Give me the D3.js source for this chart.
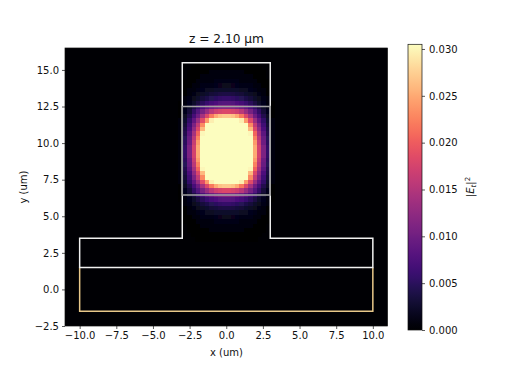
<!DOCTYPE html>
<html>
<head>
<meta charset="utf-8">
<script src="https://cdn.jsdelivr.net/npm/d3@7"></script>
<style>
  html, body { margin: 0; padding: 0; background: #fff; }
  svg { display: block; }
  text { font-family: "DejaVu Sans", sans-serif; fill: #111; }
</style>
</head>
<body>
<svg id="chart" width="520" height="371"></svg>
<script>
"use strict";

// tick labels
const xTicks = [ -10, -7.5, -5, -2.5, 0, 2.5, 5, 7.5, 10 ];
const yTicks = [ -2.5, 0, 2.5, 5, 7.5, 10, 12.5, 15 ];
const cTicks = [ 0, 0.005, 0.01, 0.015, 0.02, 0.025, 0.03 ];

// field: |x| of the columns (mirrored), y of the rows
const fieldStep = 0.3;
const fieldX = [ 0.15, 0.45, 0.75, 1.05, 1.35, 1.65, 1.95, 2.25, 2.55, 2.85, 3.15 ];
const fieldY = [ 15.45, 15.15, 14.85, 14.55, 14.25, 13.95, 13.65, 13.35, 13.05, 12.75, 12.45,
                 12.15, 11.85, 11.55, 11.25, 10.95, 10.65, 10.35, 10.05, 9.75, 9.45,
                 9.15, 8.85, 8.55, 8.25, 7.95, 7.65, 7.35, 7.05, 6.75, 6.45,
                 6.15, 5.85, 5.55, 5.25, 4.95, 4.65, 4.35, 4.05, 3.75, 3.45 ];
// |E|^2 in units of 1e-3, one row per fieldY; short rows are zero further out
const fieldRows = [
  [ .2, .2, .2, .2, .15, .15, .1 ],
  [ .35, .3, .3, .3, .25, .2, .15, .1 ],
  [ .5, .5, .45, .4, .35, .3, .25, .15, .1 ],
  [ .75, .7, .7, .6, .55, .45, .35, .25, .15 ],
  [ 1.1, 1.1, 1, .9, .8, .65, .5, .35, .2, .1 ],
  [ 1.7, 1.6, 1.5, 1.4, 1.2, 1, .75, .5, .3, .15 ],
  [ 2.5, 2.4, 2.3, 2.1, 1.8, 1.5, 1.1, .75, .45, .2 ],
  [ 3.7, 3.6, 3.4, 3.1, 2.7, 2.2, 1.7, 1.1, .65, .3 ],
  [ 5.6, 5.4, 5.1, 4.6, 4, 3.3, 2.5, 1.7, 1, .45 ],
  [ 8, 7.8, 7.4, 6.8, 6, 4.8, 3.6, 2.5, 1.5, .7, .1 ],
  [ 11.5, 11.2, 10.8, 10, 8.8, 7.2, 5.5, 3.8, 2.3, 1.1, .2 ],
  [ 18, 17.6, 17, 15.5, 13, 10.5, 7.8, 5.4, 3.2, 1.5, .2 ],
  [ 27, 26.5, 25, 22, 18, 14, 10, 7, 4.2, 2, .3 ],
  [ 37, 36, 33, 29.5, 24, 18.5, 13, 9, 5.5, 2.6, .4 ],
  [ 42, 41, 38, 35, 31, 23, 16, 11, 6.5, 3.1, .5 ],
  [ 46, 44, 42, 38, 33, 26, 18, 12.5, 7.5, 3.7, .5 ],
  [ 50, 48, 46, 42, 37, 30, 20.5, 14, 8.5, 4.2, .6 ],
  [ 55, 53, 50, 46, 40, 32.5, 22.5, 15.5, 9.5, 4.7, .7 ],
  [ 58, 56, 53, 48, 42, 34, 24, 16.5, 10, 5, .7 ],
  [ 60, 58, 55, 50, 43, 35, 25, 17.5, 11, 5.4, .8 ],
  [ 60, 58, 55, 50, 43, 35, 25, 17.5, 11, 5.5, .8 ],
  [ 60, 58, 55, 50, 43, 35, 25, 17.5, 11, 5.4, .8 ],
  [ 58, 56, 53, 48, 42, 34, 24, 16.5, 10, 5, .7 ],
  [ 55, 53, 50, 46, 40, 32.5, 22.5, 15.5, 9.5, 4.7, .7 ],
  [ 50, 48, 46, 42, 37, 30, 20.5, 14, 8.5, 4.2, .6 ],
  [ 46, 44, 42, 38, 33, 26, 18, 12.5, 7.5, 3.7, .5 ],
  [ 42, 41, 38, 35, 31, 23, 16, 11, 6.5, 3.1, .5 ],
  [ 37, 36, 33, 29.5, 24, 18.5, 13, 9, 5.5, 2.6, .4 ],
  [ 27, 26.5, 25, 22, 18, 14, 10, 7, 4.2, 2, .3 ],
  [ 18, 17.6, 17, 15.5, 13, 10.5, 7.8, 5.4, 3.2, 1.5, .2 ],
  [ 11.5, 11.2, 10.8, 10, 8.8, 7.2, 5.5, 3.8, 2.3, 1.1, .2 ],
  [ 8, 7.8, 7.4, 6.8, 6, 4.8, 3.6, 2.5, 1.5, .7, .1 ],
  [ 5.6, 5.4, 5.1, 4.6, 4, 3.3, 2.5, 1.7, 1, .45 ],
  [ 3.7, 3.6, 3.4, 3.1, 2.7, 2.2, 1.7, 1.1, .65, .3 ],
  [ 2.5, 2.4, 2.3, 2.1, 1.8, 1.5, 1.1, .75, .45, .2 ],
  [ 1.7, 1.6, 1.5, 1.4, 1.2, 1, .75, .5, .3, .15 ],
  [ 1.1, 1.1, 1, .9, .8, .65, .5, .35, .2, .1 ],
  [ .75, .7, .7, .6, .55, .45, .35, .25, .15 ],
  [ .5, .5, .45, .4, .35, .3, .25, .15, .1 ],
  [ .35, .3, .3, .3, .25, .2, .15, .1 ],
  [ .2, .2, .2, .2, .15, .15, .1 ]
];

// structure outlines in um
const ridgeOutline = [ [-10,3.5], [-3,3.5], [-3,15.5], [3,15.5], [3,3.5], [10,3.5], [10,1.5], [-10,1.5] ];
const coreOutline  = [ [-3,6.45], [-3,12.5], [3,12.5], [3,6.45] ];
const slabOutline  = [ [-10,1.5], [-10,-1.5], [10,-1.5], [10,1.5] ];

const plot = { left: 65, right: 387.5, top: 48, bottom: 326 };
const cbar = { left: 408, right: 422, top: 44.3, bottom: 330 };
const cMax = 0.0305;

const x = d3.scaleLinear().domain([ -11, 11 ]).range([ plot.left, plot.right ]);
const y = d3.scaleLinear().domain([ -2.5, 16.5 ]).range([ plot.bottom, plot.top ]);
const c = d3.scaleLinear().domain([ 0, cMax ]).range([ cbar.bottom, cbar.top ]);
const color = d3.scaleSequential( d3.interpolateMagma ).domain([ 0, cMax ]).clamp( true );

const svg = d3.select( '#chart' );
const defs = svg.append( 'defs' );

// the reference is a soft raster, so the cells get a slight blur
defs.append( 'filter' )
    .attr( 'id', 'soft' )
  .append( 'feGaussianBlur' )
    .attr( 'stdDeviation', 0.7 );

// plot background
svg.append( 'rect' )
    .attr( 'x', plot.left ).attr( 'y', plot.top )
    .attr( 'width', plot.right - plot.left ).attr( 'height', plot.bottom - plot.top )
    .attr( 'fill', color( 0 ) );

// field cells, mirrored around x = 0
const cells = [];
fieldRows.forEach( (row, j) => {
  row.forEach( (v, i) => {
    cells.push( { x: -fieldX[i], y: fieldY[j], v: v / 1000 } );
    cells.push( { x:  fieldX[i], y: fieldY[j], v: v / 1000 } );
  });
});
svg.append( 'g' )
    .attr( 'filter', 'url(#soft)' )
    .attr( 'shape-rendering', 'crispEdges' )
  .selectAll( 'rect' )
    .data( cells )
  .enter().append( 'rect' )
    .attr( 'x', (d) => x( d.x - fieldStep / 2 ) )
    .attr( 'y', (d) => y( d.y + fieldStep / 2 ) )
    .attr( 'width',  x( fieldStep ) - x( 0 ) + 0.5 )
    .attr( 'height', y( 0 ) - y( fieldStep ) + 0.5 )
    .attr( 'fill', (d) => color( d.v ) );

// structure outlines
const outline = d3.line().x( (d) => x( d[0] ) ).y( (d) => y( d[1] ) );
svg.append( 'path' )
    .attr( 'd', outline( slabOutline ) )
    .attr( 'fill', 'none' ).attr( 'stroke', '#e8c88a' ).attr( 'stroke-width', 1.5 );
svg.append( 'path' )
    .attr( 'd', outline( ridgeOutline ) + 'Z' )
    .attr( 'fill', 'none' ).attr( 'stroke', '#f0f0f0' ).attr( 'stroke-width', 1.5 );
svg.append( 'path' )
    .attr( 'd', outline( coreOutline ) + 'Z' )
    .attr( 'fill', 'none' ).attr( 'stroke', '#a2a2a2' ).attr( 'stroke-width', 1.5 );

// axes
function styleAxis( g ) {
  g.selectAll( 'text' ).style( 'font-size', '10px' ).attr( 'fill', '#111' );
  g.selectAll( 'line' ).attr( 'stroke', '#111' ).attr( 'stroke-width', 0.7 );
  g.select( '.domain' ).remove();
}
const fmt1 = d3.format( '.1f' );
svg.append( 'g' )
    .attr( 'transform', 'translate(0,' + plot.bottom + ')' )
    .call( d3.axisBottom( x ).tickValues( xTicks ).tickFormat( fmt1 ).tickSize( 3 ).tickPadding( 3 ) )
    .call( styleAxis );
svg.append( 'g' )
    .attr( 'transform', 'translate(' + plot.left + ',0)' )
    .call( d3.axisLeft( y ).tickValues( yTicks ).tickFormat( fmt1 ).tickSize( 3 ).tickPadding( 3 ) )
    .call( styleAxis );

// plot frame
svg.append( 'rect' )
    .attr( 'x', plot.left ).attr( 'y', plot.top )
    .attr( 'width', plot.right - plot.left ).attr( 'height', plot.bottom - plot.top )
    .attr( 'fill', 'none' ).attr( 'stroke', '#111' ).attr( 'stroke-width', 0.7 );

// colorbar
const grad = defs.append( 'linearGradient' )
    .attr( 'id', 'magma' )
    .attr( 'x1', 0 ).attr( 'y1', 1 ).attr( 'x2', 0 ).attr( 'y2', 0 );
d3.range( 0, 1.001, 0.02 ).forEach( (t) => {
  grad.append( 'stop' )
      .attr( 'offset', t )
      .attr( 'stop-color', d3.interpolateMagma( t ) );
});
svg.append( 'rect' )
    .attr( 'x', cbar.left ).attr( 'y', cbar.top )
    .attr( 'width', cbar.right - cbar.left ).attr( 'height', cbar.bottom - cbar.top )
    .attr( 'fill', 'url(#magma)' )
    .attr( 'stroke', '#111' ).attr( 'stroke-width', 0.7 );
svg.append( 'g' )
    .attr( 'transform', 'translate(' + cbar.right + ',0)' )
    .call( d3.axisRight( c ).tickValues( cTicks ).tickFormat( d3.format( '.3f' ) ).tickSize( 3 ).tickPadding( 4 ) )
    .call( styleAxis );

// labels
svg.append( 'text' )
    .attr( 'x', 226.5 ).attr( 'y', 42.5 )
    .attr( 'text-anchor', 'middle' ).style( 'font-size', '12.2px' )
    .text( 'z = 2.10 µm' );
svg.append( 'text' )
    .attr( 'x', 226.5 ).attr( 'y', 356 )
    .attr( 'text-anchor', 'middle' ).style( 'font-size', '10px' )
    .text( 'x (um)' );
svg.append( 'text' )
    .attr( 'transform', 'translate(27,187) rotate(-90)' )
    .attr( 'text-anchor', 'middle' ).style( 'font-size', '10px' )
    .text( 'y (um)' );

const cLabel = svg.append( 'text' )
    .attr( 'transform', 'translate(474,187) rotate(-90)' )
    .attr( 'text-anchor', 'middle' ).style( 'font-size', '10px' );
cLabel.append( 'tspan' ).text( '|' );
cLabel.append( 'tspan' ).style( 'font-style', 'italic' ).text( 'E' );
cLabel.append( 'tspan' ).style( 'font-style', 'italic' ).style( 'font-size', '7px' ).attr( 'dy', 2 ).text( 't' );
cLabel.append( 'tspan' ).attr( 'dy', -2 ).text( '|' );
cLabel.append( 'tspan' ).style( 'font-size', '7px' ).attr( 'dy', -4 ).text( '2' );
</script>
</body>
</html>
